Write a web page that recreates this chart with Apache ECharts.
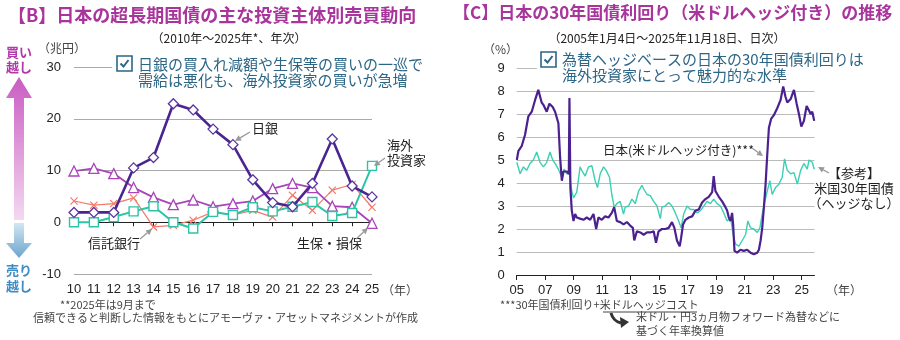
<!DOCTYPE html>
<html><head><meta charset="utf-8">
<script src="https://cdn.jsdelivr.net/npm/echarts@6/dist/echarts.min.js"></script>
<style>html,body{margin:0;padding:0;background:#fff}#c{width:900px;height:340px}</style>
</head><body><div id="c"></div>
<script>
// ---------- Chart B data (兆円, annual) ----------
const years = ['10','11','12','13','14','15','16','17','18','19','20','21','22','23','24','25'];
const boj        = [1.9, 1.9, 1.9, 10.5, 12.5, 22.9, 21.7, 18.0, 15.0, 8.2, 3.8, 3.0, 7.5, 16.1, 7.0, 4.9];
const insurers   = [9.9, 10.4, 9.4, 6.7, 4.8, 3.4, 4.3, 3.0, 3.6, 4.1, 6.5, 7.5, 6.7, 3.1, 2.9, -0.2];
const trustBanks = [4.1, 3.3, 3.6, 4.7, -0.9, -0.6, 0.4, 2.0, 1.4, 2.3, 1.0, 5.2, 2.3, 6.2, 7.3, 2.9];
const overseas   = [0.0, 0.0, 1.0, 2.1, 3.1, 0.0, -1.2, 2.0, 1.4, 2.9, 2.1, 3.0, 3.9, 1.2, 1.8, 10.9];
const leftTicks = [-10, 0, 10, 20, 30];

// ---------- Chart C data (%) ----------
const jpDates = ['2005-01-04','2005-02-15','2005-05-08','2005-08-03','2005-10-27','2006-01-22','2006-04-16','2006-07-09','2006-10-03','2006-11-16',
 '2007-02-10','2007-04-20','2007-07-13','2007-09-12','2007-12-06','2008-01-19','2008-03-03','2008-04-13','2008-07-08','2008-08-29',
 '2008-09-14','2008-10-08','2008-11-13','2008-12-27','2009-02-06','2009-03-21','2009-06-14','2009-09-08','2009-12-02','2010-02-27',
 '2010-05-23','2010-07-31','2010-09-27','2010-12-22','2011-03-18','2011-06-12','2011-09-05','2011-11-05','2012-01-12','2012-04-07',
 '2012-07-01','2012-09-25','2012-12-19','2013-02-26','2013-04-02','2013-06-09','2013-09-04','2013-11-29','2014-02-23','2014-05-19',
 '2014-08-13','2014-10-12','2014-12-17','2015-03-13','2015-06-07','2015-09-01','2015-11-26','2016-01-26','2016-04-01','2016-06-10',
 '2016-07-15','2016-09-05','2016-11-04','2017-01-30','2017-04-25','2017-07-18','2017-10-12','2018-01-05','2018-04-01','2018-06-25',
 '2018-09-20','2018-10-30','2018-12-13','2019-03-10','2019-06-03','2019-08-27','2019-10-09','2019-11-21','2020-01-04','2020-02-14',
 '2020-03-11','2020-04-15','2020-06-21','2020-09-15','2020-12-09','2021-03-05','2021-05-30','2021-08-24','2021-11-18','2022-01-01',
 '2022-02-13','2022-03-27','2022-05-09','2022-06-21','2022-08-03','2022-09-14','2022-11-13','2023-01-19','2023-04-15','2023-07-09',
 '2023-09-16','2023-11-13','2023-12-29','2024-03-24','2024-06-17','2024-08-25','2024-10-23','2024-12-23','2025-02-27','2025-05-08',
 '2025-07-08','2025-08-18','2025-09-30','2025-11-18'];
const jpYields = [5.0,5.4,5.6,6.1,6.9,7.1,7.6,8.05,7.5,7.4,
 7.1,7.45,7.3,7.1,6.6,5.1,4.1,4.5,4.5,4.4,
 7.7,3.8,2.8,2.35,2.65,2.5,2.45,2.4,2.5,2.4,
 2.65,2.0,2.5,2.4,2.55,2.5,2.7,2.95,2.35,2.3,
 2.2,2.3,2.15,2.05,1.5,1.9,1.85,1.75,1.85,1.85,
 1.9,1.4,1.9,2.0,2.0,2.05,2.3,2.05,1.5,1.25,
 1.6,2.2,2.4,2.5,2.55,2.8,2.85,3.15,3.3,3.4,
 3.6,4.3,3.65,3.4,3.2,2.95,2.8,2.5,2.35,2.7,
 2.2,1.05,0.97,1.1,1.05,1.1,0.97,0.9,0.97,1.1,
 1.5,2.05,2.95,3.95,5.25,6.4,6.8,6.95,7.25,7.6,
 8.2,7.75,7.5,7.65,8.05,7.45,7.0,6.45,6.7,7.35,
 7.15,7.0,7.1,6.7];
const usDates = ['2005-01-04','2005-03-30','2005-06-21','2005-09-13','2005-12-08','2006-03-04','2006-05-29','2006-08-22','2006-11-16','2007-02-10',
 '2007-05-05','2007-07-13','2007-09-12','2007-12-06','2008-03-03','2008-05-01','2008-07-08','2008-09-14','2008-11-13','2008-12-27',
 '2009-03-21','2009-06-14','2009-07-27','2009-10-22','2010-01-15','2010-04-11','2010-07-05','2010-09-03','2010-11-11','2011-02-06',
 '2011-04-13','2011-07-08','2011-09-05','2011-11-05','2012-01-12','2012-04-07','2012-07-01','2012-08-13','2012-11-07','2013-02-02',
 '2013-04-28','2013-07-23','2013-10-16','2013-11-29','2014-02-23','2014-05-19','2014-08-13','2014-11-06','2015-01-30','2015-03-13',
 '2015-06-07','2015-09-01','2015-11-26','2016-02-20','2016-05-15','2016-07-15','2016-09-21','2016-12-16','2017-03-12','2017-06-05',
 '2017-08-29','2017-11-23','2018-02-17','2018-05-13','2018-08-07','2018-10-30','2019-01-24','2019-04-20','2019-07-14','2019-10-09',
 '2020-01-04','2020-03-11','2020-05-10','2020-08-04','2020-10-29','2021-01-23','2021-03-24','2021-05-30','2021-08-24','2021-11-18',
 '2022-01-26','2022-03-27','2022-05-26','2022-08-03','2022-10-08','2022-12-07','2023-03-03','2023-05-28','2023-08-21','2023-10-20',
 '2023-12-29','2024-03-24','2024-06-17','2024-09-12','2024-12-06','2025-02-27','2025-05-24','2025-07-08','2025-09-30','2025-11-18'];
const usYields = [4.9,4.4,4.7,4.55,4.85,5.0,5.35,4.9,4.7,4.9,
 5.35,5.0,4.85,4.6,4.25,4.6,4.4,4.4,3.65,3.35,
 3.6,4.7,4.55,4.3,4.7,4.75,4.1,3.8,4.4,4.7,
 4.55,4.25,3.5,2.95,3.1,3.2,2.65,2.95,3.0,3.3,
 3.1,3.65,3.9,3.75,3.5,3.45,3.2,3.0,2.45,2.95,
 3.0,3.15,3.0,2.7,2.35,2.05,2.65,3.0,2.85,2.85,
 2.7,2.8,3.0,3.2,3.1,3.3,3.1,3.0,2.7,2.35,
 2.5,1.75,1.35,1.25,1.5,1.75,2.35,2.05,2.0,1.85,
 2.05,2.65,3.15,3.65,4.1,3.5,3.8,3.95,4.25,5.05,
 4.55,4.4,4.45,3.95,4.55,4.85,4.6,5.0,4.9,4.6];
const rightTicks = [0,1,2,3,4,5,6,7,8,9];
const rightYearLabels = ['05','07','09','11','13','15','17','19','21','23','25'];

const JP = '"Noto Sans CJK JP", "Noto Sans", sans-serif';
const NUM = '"Liberation Sans", Arial, sans-serif';

function toYrs(s){const [y,m,d]=s.split('-').map(Number);return (Date.UTC(y,m-1,d)-Date.UTC(2005,0,1))/(365.25*864e5);}
const jpData = jpDates.map((d,i)=>[toYrs(d), jpYields[i]]);
const usData = usDates.map((d,i)=>[toYrs(d), usYields[i]]);

function txt(x,y,text,size,fill,opt){opt=opt||{};return {type:'text',x:x,y:y,z:100,style:{text:text,font:(opt.bold?'bold ':'')+size+'px '+(opt.font||JP),fill:fill,align:opt.align||'left',verticalAlign:'middle'}};}
function arrow(x1,y1,x2,y2,color){
  const a=Math.atan2(y2-y1,x2-x1), L=6, W=3;
  const bx=x2-L*Math.cos(a), by=y2-L*Math.sin(a);
  return [
    {type:'line',z:100,shape:{x1:x1,y1:y1,x2:bx,y2:by},style:{stroke:color,lineWidth:1.3}},
    {type:'polygon',z:100,shape:{points:[[x2,y2],[bx-W*Math.sin(a),by+W*Math.cos(a)],[bx+W*Math.sin(a),by-W*Math.cos(a)]]},style:{fill:color}}
  ];
}
function checkbox(x,y,c){
  return [
    {type:'rect',z:101,shape:{x:x,y:y,width:15,height:15},style:{fill:'#fff',stroke:c,lineWidth:1.6}},
    {type:'polyline',z:102,shape:{points:[[x+3.5,y+7.5],[x+6.5,y+10.5],[x+11.5,y+4]]},style:{stroke:c,lineWidth:2,fill:null}}
  ];
}
const calloutC = '#2c6687';
const titleC = '#a8349c';
const G = '#999';

const graphics = [].concat(
  [txt(8,15,'【B】日本の超長期国債の主な投資主体別売買動向',18,titleC,{bold:true}),
   txt(453,13,'【C】日本の30年国債利回り（米ドルヘッジ付き）の推移',17,titleC,{bold:true}),
   txt(229,38,'（2010年～2025年*、年次）',12,'#222',{align:'center'}),
   txt(667,38,'（2005年1月4日～2025年11月18日、日次）',12,'#222',{align:'center'}),
   txt(38,48,'（兆円）',12,'#444'),
   txt(483,49,'（%）',12,'#444'),
   // callout boxes
   {type:'rect',z:99,shape:{x:112,y:54,width:300,height:35},style:{fill:'#fff'}},
   {type:'rect',z:99,shape:{x:537,y:50,width:290,height:36},style:{fill:'#fff'}},
   txt(138,64,'日銀の買入れ減額や生保等の買いの一巡で',15,calloutC),
   txt(138,80,'需給は悪化も、海外投資家の買いが急増',15,calloutC),
   txt(562,59,'為替ヘッジベースの日本の30年国債利回りは',15,calloutC),
   txt(562,75,'海外投資家にとって魅力的な水準',15,calloutC),
   // side arrows
   {type:'polygon',z:50,shape:{points:[[19,77],[32,98],[24,98],[24,220],[14,220],[14,98],[6,98]]},
     style:{fill:new echarts.graphic.LinearGradient(0,0,0,1,[{offset:0,color:'#c95cc2'},{offset:1,color:'#f4d8f1'}])}},
   {type:'polygon',z:50,shape:{points:[[14,223],[24,223],[24,243],[32,243],[19,258],[6,243],[14,243]]},
     style:{fill:new echarts.graphic.LinearGradient(0,0,0,1,[{offset:0,color:'#d2e6f2'},{offset:1,color:'#6aa5cf'}])}},
   txt(6,52,'買い',13,'#b23aa8',{bold:true}),
   txt(6,67,'越し',13,'#b23aa8',{bold:true}),
   txt(6,270,'売り',13,'#3d8cc4',{bold:true}),
   txt(6,286,'越し',13,'#3d8cc4',{bold:true}),
   // in-plot labels B
   txt(252,128,'日銀',13,'#222'),
   txt(387,145,'海外',13,'#222'),
   txt(387,160,'投資家',13,'#222'),
   txt(88,243,'信託銀行',13,'#222'),
   txt(297,243,'生保・損保',13,'#222'),
   // in-plot labels C
   txt(603,150,'日本(米ドルヘッジ付き)***',12.5,'#222'),
   txt(854,173,'【参考】',13,'#222',{align:'center'}),
   txt(854,188,'米国30年国債',13,'#222',{align:'center'}),
   txt(854,203,'（ヘッジなし）',13,'#222',{align:'center'}),
   // axis unit
   txt(382,290,'（年）',12,'#444'),
   txt(826,290,'（年）',12,'#444'),
   // footnotes
   txt(60,305,'**2025年は9月まで',11,'#444'),
   txt(33,318,'信頼できると判断した情報をもとにアモーヴァ・アセットマネジメントが作成',11,'#444'),
   txt(500,305,'***30年国債利回り+米ドルヘッジコスト',11,'#444'),
   {type:'line',z:100,shape:{x1:603,y1:312,x2:697,y2:312},style:{stroke:'#444',lineWidth:1}},
   txt(636,317,'米ドル・円3ヵ月物フォワード為替などに',11,'#444'),
   txt(636,331,'基づく年率換算値',11,'#444'),
   {type:'bezierCurve',z:100,shape:{x1:611,y1:313,cpx1:613,cpy1:321,x2:621,y2:323},style:{stroke:'#333',lineWidth:3,fill:null}},
   {type:'polygon',z:100,shape:{points:[[629,322],[620,317],[621,328]]},style:{fill:'#333'}}
  ],
  checkbox(117,56,calloutC),
  checkbox(541,52,calloutC),
  arrow(250,132,235,141,G),
  arrow(385,158,374,166,G),
  arrow(140,239,152,229,G),
  arrow(356,239,368,228,G),
  arrow(752,148,763,156,G),
  arrow(829,173,818,167,G)
);

const xSym = 'path://M0,1L1,0L5,4L9,0L10,1L6,5L10,9L9,10L5,6L1,10L0,9L4,5Z';

const chart = echarts.init(document.getElementById('c'), null, {renderer:'canvas'});
chart.setOption({
  animation:false,
  backgroundColor:'#fff',
  textStyle:{fontFamily:NUM},
  grid:[
    {left:74, right:528, top:67, bottom:66},
    {left:516.7, right:85.5, top:68, bottom:65}
  ],
  xAxis:[
    {gridIndex:0,type:'category',data:years,boundaryGap:false,position:'bottom',
     axisLine:{onZero:true,lineStyle:{color:'#222',width:1}},axisTick:{show:true,length:4,lineStyle:{color:'#222'}},
     axisLabel:{show:false},splitLine:{show:false}},
    {gridIndex:0,type:'category',data:years,boundaryGap:false,position:'bottom',
     axisLine:{show:false,onZero:false},axisTick:{show:false},
     axisLabel:{color:'#222',fontSize:13,margin:9,fontFamily:NUM,interval:0},splitLine:{show:false}},
    {gridIndex:1,type:'value',min:0,max:20.9,interval:2,position:'bottom',
     axisLine:{onZero:false,lineStyle:{color:'#222',width:1}},axisTick:{show:true,length:5,lineStyle:{color:'#222'}},
     axisLabel:{color:'#222',fontSize:13,margin:9,fontFamily:NUM,showMaxLabel:false,
       formatter:v=>{const i=Math.round(v/2);return (Math.abs(v-2*i)<1e-6 && rightYearLabels[i])?rightYearLabels[i]:'';}},
     splitLine:{show:false}}
  ],
  yAxis:[
    {gridIndex:0,type:'value',min:leftTicks[0],max:leftTicks[leftTicks.length-1],interval:10,
     axisLine:{show:false},axisTick:{show:false},
     axisLabel:{color:'#222',fontSize:13,margin:13,fontFamily:NUM},
     splitLine:{lineStyle:{color:'#aaa',width:1}}},
    {gridIndex:1,type:'value',min:rightTicks[0],max:rightTicks[rightTicks.length-1],interval:1,
     axisLine:{show:false},axisTick:{show:false},
     axisLabel:{color:'#222',fontSize:13,margin:12,fontFamily:NUM},
     splitLine:{lineStyle:{color:'#bbb',width:1.2}}}
  ],
  series:[
    {type:'line',name:'信託銀行',xAxisIndex:0,yAxisIndex:0,data:trustBanks,symbol:xSym,symbolSize:8,
     lineStyle:{color:'#f27a6a',width:1.2},itemStyle:{color:'#f27a6a'},z:3},
    {type:'line',name:'生保・損保',xAxisIndex:0,yAxisIndex:0,data:insurers,symbol:'triangle',symbolSize:10,
     lineStyle:{color:'#a845b8',width:1.8},itemStyle:{color:'#fff',borderColor:'#a845b8',borderWidth:1.3},z:4},
    {type:'line',name:'海外投資家',xAxisIndex:0,yAxisIndex:0,data:overseas,symbol:'rect',symbolSize:9,
     lineStyle:{color:'#2cc4a6',width:2},itemStyle:{color:'#fff',borderColor:'#2cc4a6',borderWidth:1.4},z:5},
    {type:'line',name:'日銀',xAxisIndex:0,yAxisIndex:0,data:boj,symbol:'diamond',symbolSize:10,
     lineStyle:{color:'#4a2590',width:2.6},itemStyle:{color:'#fff',borderColor:'#5a35a0',borderWidth:1.3},z:6},
    {type:'line',name:'米国30年国債',xAxisIndex:2,yAxisIndex:1,data:usData,showSymbol:false,
     lineStyle:{color:'#3bcfb3',width:1.4},z:3},
    {type:'line',name:'日本（米ドルヘッジ付き）',xAxisIndex:2,yAxisIndex:1,data:jpData,showSymbol:false,
     lineStyle:{color:'#4b2190',width:2.2},z:4}
  ],
  graphic:{elements:graphics}
});
</script></body></html>
